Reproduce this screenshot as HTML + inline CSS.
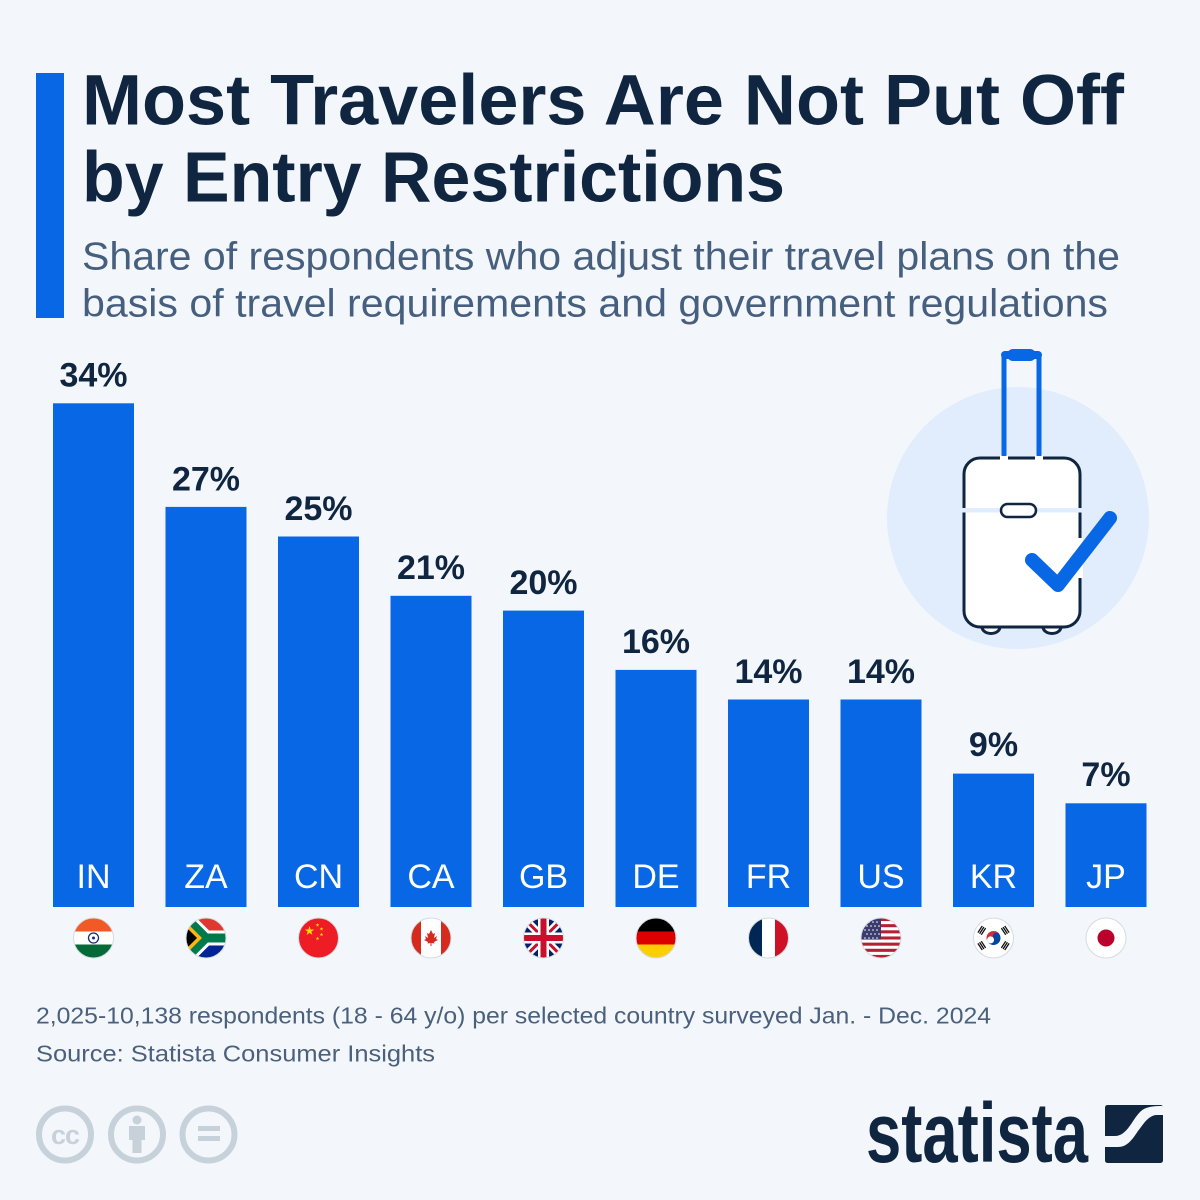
<!DOCTYPE html>
<html><head><meta charset="utf-8"><style>
html,body{margin:0;padding:0;background:#f3f7fb;}
svg{display:block;}
text{font-family:"Liberation Sans",Arial,sans-serif;}
</style></head><body>
<svg width="1200" height="1200" viewBox="0 0 1200 1200" xmlns="http://www.w3.org/2000/svg">
<defs><clipPath id="fc" clipPathUnits="userSpaceOnUse"><circle cx="0" cy="0" r="20"/></clipPath>
<clipPath id="lc" clipPathUnits="userSpaceOnUse"><rect x="0" y="0" width="58" height="58" rx="2.5"/></clipPath></defs>
<rect width="1200" height="1200" fill="#f3f7fb"/>
<rect x="36" y="73" width="28" height="245" fill="#0767e5"/>
<g fill="#0f2540" font-weight="bold" font-size="71">
<text x="82" y="124.5" textLength="1042" lengthAdjust="spacingAndGlyphs">Most Travelers Are Not Put Off</text>
<text x="82" y="201.5" textLength="703" lengthAdjust="spacingAndGlyphs">by Entry Restrictions</text>
</g>
<g fill="#475f7e" font-size="39">
<text x="82" y="269.5" textLength="1038" lengthAdjust="spacingAndGlyphs">Share of respondents who adjust their travel plans on the</text>
<text x="82" y="316.5" textLength="1026" lengthAdjust="spacingAndGlyphs">basis of travel requirements and government regulations</text>
</g>
<!-- suitcase icon -->
<circle cx="1018" cy="518" r="131" fill="#e1edfc"/>
<line x1="1004" y1="356" x2="1004" y2="458" stroke="#0767e5" stroke-width="5"/>
<line x1="1039" y1="356" x2="1039" y2="458" stroke="#0767e5" stroke-width="5"/>
<rect x="1001" y="351" width="41" height="8" rx="4" fill="#0767e5"/>
<rect x="1007" y="349" width="29" height="12" rx="6" fill="#0767e5"/>
<path d="M982,627 a9,6.5 0 0 0 18,0 M1043,627 a9,6.5 0 0 0 18,0" fill="#fff" stroke="#0f2540" stroke-width="3"/>
<rect x="964" y="458" width="116" height="169" rx="16" fill="#fff" stroke="#0f2540" stroke-width="3"/>
<rect x="1000" y="455" width="8" height="6" fill="#fff"/>
<rect x="1035" y="455" width="8" height="6" fill="#fff"/>
<line x1="1004" y1="440" x2="1004" y2="456" stroke="#0767e5" stroke-width="5"/>
<line x1="1039" y1="440" x2="1039" y2="456" stroke="#0767e5" stroke-width="5"/>
<rect x="961" y="508" width="122" height="4.5" fill="#e1edfc"/>
<rect x="1001" y="504" width="35" height="13" rx="6.5" fill="#fff" stroke="#0f2540" stroke-width="2.5"/>
<rect x="1077" y="538" width="6" height="40" fill="#fff"/>
<polyline points="1032,560 1058,585 1110,518" fill="none" stroke="#0767e5" stroke-width="14" stroke-linecap="round" stroke-linejoin="round"/>
<!-- bars -->
<g fill="#0767e5">
<rect x="53" y="403.3" width="81" height="503.7"/>
<rect x="165.5" y="506.9" width="81" height="400.1"/>
<rect x="278" y="536.5" width="81" height="370.5"/>
<rect x="390.5" y="595.8" width="81" height="311.2"/>
<rect x="503" y="610.6" width="81" height="296.4"/>
<rect x="615.5" y="669.9" width="81" height="237.1"/>
<rect x="728" y="699.5" width="81" height="207.5"/>
<rect x="840.5" y="699.5" width="81" height="207.5"/>
<rect x="953" y="773.6" width="81" height="133.4"/>
<rect x="1065.5" y="803.3" width="81" height="103.7"/>
</g>
<g fill="#0f2540" font-weight="bold" font-size="34" text-anchor="middle">
<text x="93.5" y="386.5">34%</text>
<text x="206" y="490.5">27%</text>
<text x="318.5" y="520">25%</text>
<text x="431" y="579">21%</text>
<text x="543.5" y="594">20%</text>
<text x="656" y="653">16%</text>
<text x="768.5" y="683">14%</text>
<text x="881" y="683">14%</text>
<text x="993.5" y="756">9%</text>
<text x="1106" y="786">7%</text>
</g>
<g fill="#ffffff" font-size="34" text-anchor="middle">
<text x="93.5" y="888">IN</text>
<text x="206" y="888">ZA</text>
<text x="318.5" y="888">CN</text>
<text x="431" y="888">CA</text>
<text x="543.5" y="888">GB</text>
<text x="656" y="888">DE</text>
<text x="768.5" y="888">FR</text>
<text x="881" y="888">US</text>
<text x="993.5" y="888">KR</text>
<text x="1106" y="888">JP</text>
</g>
<!-- flags -->
<g transform="translate(93.5,938)"><g clip-path="url(#fc)">
<rect x="-20" y="-20" width="40" height="14" fill="#f15a24"/><rect x="-20" y="-6.5" width="40" height="13" fill="#fff"/><rect x="-20" y="6.5" width="40" height="14" fill="#046a38"/>
<circle r="5" fill="none" stroke="#1c2a7a" stroke-width="1.3"/><circle r="1.5" fill="#1c2a7a"/></g>
<circle r="20" fill="none" stroke="#d5dbe1" stroke-width="1"/></g>

<g transform="translate(206,938)"><g clip-path="url(#fc)">
<rect x="-20" y="-20" width="40" height="20" fill="#de3831"/><rect x="-20" y="0" width="40" height="20" fill="#002395"/>
<path d="M-22,-22 L0,0 L22,0 M-22,22 L0,0" fill="none" stroke="#fff" stroke-width="15"/>
<path d="M-22,-22 L0,0 L22,0 M-22,22 L0,0" fill="none" stroke="#007a4d" stroke-width="9"/>
<polygon points="-20,-16 -4,0 -20,16" fill="#ffb612"/><polygon points="-20,-11 -9,0 -20,11" fill="#000"/></g>
<circle r="20" fill="none" stroke="#d5dbe1" stroke-width="1"/></g>

<g transform="translate(318.5,938)"><g clip-path="url(#fc)">
<rect x="-20" y="-20" width="40" height="40" fill="#ee1c25"/>
<g fill="#ffde00">
<polygon transform="translate(-9,-7)" points="0,-5 1.123,-1.545 4.755,-1.545 1.817,0.590 2.939,4.045 0,1.91 -2.939,4.045 -1.817,0.590 -4.755,-1.545 -1.123,-1.545"/>
<polygon transform="translate(-1,-13) scale(0.4)" points="0,-5 1.123,-1.545 4.755,-1.545 1.817,0.590 2.939,4.045 0,1.91 -2.939,4.045 -1.817,0.590 -4.755,-1.545 -1.123,-1.545"/>
<polygon transform="translate(3,-9) scale(0.4)" points="0,-5 1.123,-1.545 4.755,-1.545 1.817,0.590 2.939,4.045 0,1.91 -2.939,4.045 -1.817,0.590 -4.755,-1.545 -1.123,-1.545"/>
<polygon transform="translate(3,-3.5) scale(0.4)" points="0,-5 1.123,-1.545 4.755,-1.545 1.817,0.590 2.939,4.045 0,1.91 -2.939,4.045 -1.817,0.590 -4.755,-1.545 -1.123,-1.545"/>
<polygon transform="translate(-1,0.5) scale(0.4)" points="0,-5 1.123,-1.545 4.755,-1.545 1.817,0.590 2.939,4.045 0,1.91 -2.939,4.045 -1.817,0.590 -4.755,-1.545 -1.123,-1.545"/>
</g></g>
<circle r="20" fill="none" stroke="#d5dbe1" stroke-width="1"/></g>

<g transform="translate(431,938)"><g clip-path="url(#fc)">
<rect x="-20" y="-20" width="40" height="40" fill="#fff"/>
<rect x="-20" y="-20" width="10" height="40" fill="#d52b1e"/><rect x="10" y="-20" width="10" height="40" fill="#d52b1e"/>
<polygon fill="#d52b1e" points="0,-8 2,-4 4,-5 3,0 6,-2 5,1 7,2 3,4 3.5,5.5 0.5,5 0.5,8 -0.5,8 -0.5,5 -3.5,5.5 -3,4 -7,2 -5,1 -6,-2 -3,0 -4,-5 -2,-4"/></g>
<circle r="20" fill="none" stroke="#d5dbe1" stroke-width="1"/></g>

<g transform="translate(543.5,938)"><g clip-path="url(#fc)">
<rect x="-20" y="-20" width="40" height="40" fill="#012169"/>
<path d="M-20,-20 L20,20 M20,-20 L-20,20" stroke="#fff" stroke-width="8"/>
<path d="M-20,-20 L20,20 M20,-20 L-20,20" stroke="#c8102e" stroke-width="3"/>
<path d="M0,-20 V20 M-20,0 H20" stroke="#fff" stroke-width="11"/>
<path d="M0,-20 V20 M-20,0 H20" stroke="#c8102e" stroke-width="6"/></g>
<circle r="20" fill="none" stroke="#d5dbe1" stroke-width="1"/></g>

<g transform="translate(656,938)"><g clip-path="url(#fc)">
<rect x="-20" y="-20" width="40" height="14" fill="#000"/><rect x="-20" y="-6.5" width="40" height="13" fill="#dd0000"/><rect x="-20" y="6.5" width="40" height="14" fill="#ffce00"/></g>
<circle r="20" fill="none" stroke="#d5dbe1" stroke-width="1"/></g>

<g transform="translate(768.5,938)"><g clip-path="url(#fc)">
<rect x="-20" y="-20" width="40" height="40" fill="#fff"/>
<rect x="-20" y="-20" width="13.5" height="40" fill="#002654"/><rect x="6.5" y="-20" width="13.5" height="40" fill="#ce1126"/></g>
<circle r="20" fill="none" stroke="#d5dbe1" stroke-width="1"/></g>

<g transform="translate(881,938)"><g clip-path="url(#fc)">
<rect x="-20" y="-20" width="40" height="40" fill="#fff"/>
<g fill="#b22234">
<rect x="-20" y="-20" width="40" height="3.08"/><rect x="-20" y="-13.85" width="40" height="3.08"/><rect x="-20" y="-7.7" width="40" height="3.08"/><rect x="-20" y="-1.54" width="40" height="3.08"/><rect x="-20" y="4.62" width="40" height="3.08"/><rect x="-20" y="10.77" width="40" height="3.08"/><rect x="-20" y="16.92" width="40" height="3.08"/></g>
<rect x="-20" y="-20" width="20" height="21.54" fill="#3c3b6e"/>
<g fill="#fff">
<circle cx="-16" cy="-16" r="0.8"/><circle cx="-12" cy="-16" r="0.8"/><circle cx="-8" cy="-16" r="0.8"/><circle cx="-4" cy="-16" r="0.8"/>
<circle cx="-14" cy="-12" r="0.8"/><circle cx="-10" cy="-12" r="0.8"/><circle cx="-6" cy="-12" r="0.8"/><circle cx="-2" cy="-12" r="0.8"/>
<circle cx="-16" cy="-8" r="0.8"/><circle cx="-12" cy="-8" r="0.8"/><circle cx="-8" cy="-8" r="0.8"/><circle cx="-4" cy="-8" r="0.8"/>
<circle cx="-14" cy="-4" r="0.8"/><circle cx="-10" cy="-4" r="0.8"/><circle cx="-6" cy="-4" r="0.8"/><circle cx="-2" cy="-4" r="0.8"/>
<circle cx="-16" cy="0" r="0.8"/><circle cx="-12" cy="0" r="0.8"/><circle cx="-8" cy="0" r="0.8"/><circle cx="-4" cy="0" r="0.8"/></g></g>
<circle r="20" fill="none" stroke="#d5dbe1" stroke-width="1"/></g>

<g transform="translate(993.5,938)"><g clip-path="url(#fc)">
<rect x="-20" y="-20" width="40" height="40" fill="#fff"/>
<g transform="rotate(-33)">
<path d="M-7,0 A7,7 0 0 1 7,0 A3.5,3.5 0 0 1 0,0 A3.5,3.5 0 0 0 -7,0 Z" fill="#cd2e3a"/>
<path d="M-7,0 A3.5,3.5 0 0 0 0,0 A3.5,3.5 0 0 1 7,0 A7,7 0 0 1 -7,0 Z" fill="#0047a0"/></g>
<g stroke="#111" stroke-width="1.3">
<g transform="rotate(-33) translate(-14,0)"><path d="M-2,-4 V4 M0,-4 V4 M2,-4 V4"/></g>
<g transform="rotate(-33) translate(14,0)"><path d="M-2,-4 V4 M0,-4 V4 M2,-4 V4"/></g>
<g transform="rotate(33) translate(-14,0)"><path d="M-2,-4 V4 M0,-4 V4 M2,-4 V4"/></g>
<g transform="rotate(33) translate(14,0)"><path d="M-2,-4 V4 M0,-4 V4 M2,-4 V4"/></g>
</g></g>
<circle r="20" fill="none" stroke="#d5dbe1" stroke-width="1"/></g>

<g transform="translate(1106,938)"><g clip-path="url(#fc)">
<rect x="-20" y="-20" width="40" height="40" fill="#fff"/><circle r="8.5" fill="#bc002d"/></g>
<circle r="20" fill="none" stroke="#d5dbe1" stroke-width="1"/></g>

<!-- footer -->
<g fill="#4a607c" font-size="23">
<text x="36" y="1023.5" textLength="955" lengthAdjust="spacingAndGlyphs">2,025-10,138 respondents (18 - 64 y/o) per selected country surveyed Jan. - Dec. 2024</text>
<text x="36" y="1061.5" textLength="399" lengthAdjust="spacingAndGlyphs">Source: Statista Consumer Insights</text>
</g>
<g fill="none" stroke="#c6d1da" stroke-width="6">
<circle cx="65" cy="1134.5" r="26"/>
<circle cx="137" cy="1134.5" r="26"/>
<circle cx="208.5" cy="1134.5" r="26"/>
</g>
<text x="65" y="1144" fill="#c6d1da" font-size="27" font-weight="bold" text-anchor="middle" letter-spacing="-1">cc</text>
<circle cx="137" cy="1120" r="4.5" fill="#c6d1da"/>
<path d="M129,1126 H145 V1140 H141.5 V1153 H132.5 V1140 H129 Z" fill="#c6d1da"/>
<rect x="198" y="1126" width="22" height="5" fill="#c6d1da"/>
<rect x="198" y="1136" width="22" height="5" fill="#c6d1da"/>
<!-- statista logo -->
<text x="866" y="1162" fill="#0f2540" font-size="84" font-weight="bold" textLength="222" lengthAdjust="spacingAndGlyphs">statista</text>
<g transform="translate(1105,1105)">
<g clip-path="url(#lc)">
<rect x="0" y="0" width="58" height="58" fill="#0f2540"/>
<path d="M-1,31 H10 C22,31 27,15 35,7 C40,2 46,1 59,1 V10 H52 C44,10 39,18 33,26 C27,35 22,42 13,42 H-1 Z" fill="#f3f7fb"/>
</g>
</g>
</svg>
</body></html>
